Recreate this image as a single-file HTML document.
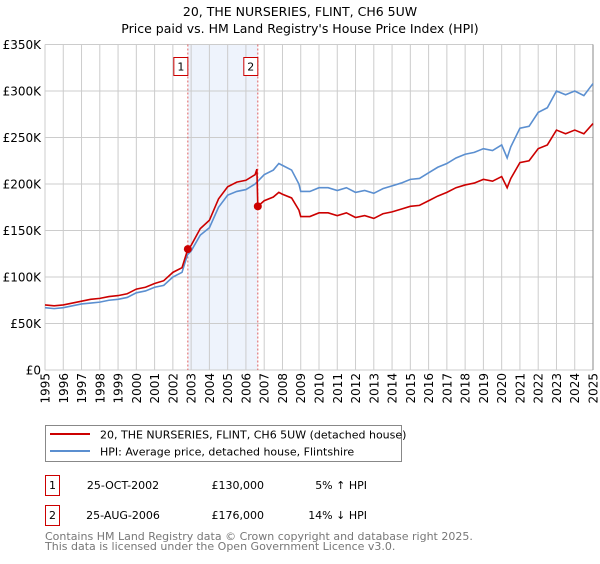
<!DOCTYPE html>
<html><head><meta charset="utf-8"><style>
body{margin:0;background:#fff;font-family:"DejaVu Sans","Liberation Sans",sans-serif;}
svg text{font-family:"DejaVu Sans","Liberation Sans",sans-serif;}
</style></head><body>
<svg id="chart" width="600" height="560" xmlns="http://www.w3.org/2000/svg">
<text x="300" y="16" text-anchor="middle" font-size="12.5">20, THE NURSERIES, FLINT, CH6 5UW</text>
<text x="300" y="33" text-anchor="middle" font-size="12.5">Price paid vs. HM Land Registry's House Price Index (HPI)</text>
<g id="grid"></g>
<g id="marks"></g>
<g id="axes"></g>
<rect x="45.5" y="425.5" width="356" height="36" fill="#fff" stroke="#888"/>
<line x1="50" y1="434" x2="90" y2="434" stroke="#cc0000" stroke-width="2"/>
<text x="100" y="438.5" font-size="11">20, THE NURSERIES, FLINT, CH6 5UW (detached house)</text>
<line x1="50" y1="451" x2="90" y2="451" stroke="#5b8fd0" stroke-width="2"/>
<text x="100" y="455.5" font-size="11">HPI: Average price, detached house, Flintshire</text>
<rect x="45.5" y="475.5" width="14" height="20" fill="#fff" stroke="#cc0000"/>
<text x="52.5" y="489" text-anchor="middle" font-size="11">1</text>
<text x="123" y="489" text-anchor="middle" font-size="11">25-OCT-2002</text>
<text x="264" y="489" font-size="11" text-anchor="end">£130,000</text>
<text x="367" y="489" font-size="11" text-anchor="end">5% ↑ HPI</text>
<rect x="45.5" y="505.5" width="14" height="20" fill="#fff" stroke="#cc0000"/>
<text x="52.5" y="519" text-anchor="middle" font-size="11">2</text>
<text x="123" y="519" text-anchor="middle" font-size="11">25-AUG-2006</text>
<text x="264" y="519" font-size="11" text-anchor="end">£176,000</text>
<text x="367" y="519" font-size="11" text-anchor="end">14% ↓ HPI</text>
<text x="45" y="540" font-size="11" fill="#777">Contains HM Land Registry data © Crown copyright and database right 2025.</text>
<text x="45" y="550" font-size="11" fill="#777">This data is licensed under the Open Government Licence v3.0.</text>
</svg>
<script>
const hpiYears=[1995,1995.5,1996,1996.5,1997,1997.5,1998,1998.5,1999,1999.5,2000,2000.5,2001,2001.5,2002,2002.5,2002.8,2003,2003.5,2004,2004.5,2005,2005.5,2006,2006.5,2007,2007.5,2007.8,2008,2008.5,2008.9,2009,2009.5,2010,2010.5,2011,2011.5,2012,2012.5,2013,2013.5,2014,2014.5,2015,2015.5,2016,2016.5,2017,2017.5,2018,2018.5,2019,2019.5,2020,2020.3,2020.5,2021,2021.5,2022,2022.5,2023,2023.5,2024,2024.5,2025];
const hpiValues=[67,66,67,69,71,72,73,75,76,78,83,85,89,91,100,105,124,128,145,153,175,188,192,194,200,210,215,222,220,215,200,192,192,196,196,193,196,191,193,190,195,198,201,205,206,212,218,222,228,232,234,238,236,242,228,240,260,262,277,282,300,296,300,295,308];
const priceYears=[1995,1995.5,1996,1996.5,1997,1997.5,1998,1998.5,1999,1999.5,2000,2000.5,2001,2001.5,2002,2002.5,2002.82,2003,2003.5,2004,2004.5,2005,2005.5,2006,2006.5,2006.6,2006.65,2007,2007.5,2007.8,2008,2008.5,2008.9,2009,2009.5,2010,2010.5,2011,2011.5,2012,2012.5,2013,2013.5,2014,2014.5,2015,2015.5,2016,2016.5,2017,2017.5,2018,2018.5,2019,2019.5,2020,2020.3,2020.5,2021,2021.5,2022,2022.5,2023,2023.5,2024,2024.5,2025];
const priceValues=[70,69,70,72,74,76,77,79,80,82,87,89,93,96,105,110,130,134,152,161,184,197,202,204,210,216,176,182,186,191,189,185,172,165,165,169,169,166,169,164,166,163,168,170,173,176,177,182,187,191,196,199,201,205,203,208,196,206,223,225,238,242,258,254,258,254,265];
const yTicks=[0,50,100,150,200,250,300,350];
const yTickLabels=["£0","£50K","£100K","£150K","£200K","£250K","£300K","£350K"];
const xTicks=[1995,1996,1997,1998,1999,2000,2001,2002,2003,2004,2005,2006,2007,2008,2009,2010,2011,2012,2013,2014,2015,2016,2017,2018,2019,2020,2021,2022,2023,2024,2025];
const sales=[{n:"1",year:2002.82,value:130},{n:"2",year:2006.65,value:176}];

const NS="http://www.w3.org/2000/svg";
const X0=45,X1=593,Y0=370,Y1=44.5;
const xs=y=>X0+(y-1995)/30*(X1-X0);
const ys=v=>Y0-v/350*(Y0-Y1);
function mk(tag,attrs,parent){const e=document.createElementNS(NS,tag);for(const k in attrs)e.setAttribute(k,attrs[k]);parent.appendChild(e);return e;}
const grid=document.getElementById('grid'),marks=document.getElementById('marks'),axes=document.getElementById('axes');
const band=mk('rect',{x:xs(sales[0].year),y:Y1,width:xs(sales[1].year)-xs(sales[0].year),height:Y0-Y1,fill:'#eef3fc'},grid);


xTicks.forEach(t=>{
  const l=mk('line',{x1:xs(t),x2:xs(t),y1:Y1,y2:Y0,stroke:'#cccccc','stroke-width':1},grid);
  
  
  const tx=mk('text',{x:0,y:0,'font-size':12,'text-anchor':'end',transform:`translate(${xs(t)+4.5},373) rotate(-90)`},axes);
  
  
  tx.textContent=t;
});
yTicks.forEach((t,i)=>{
  const l=mk('line',{x1:X0,x2:X1,y1:ys(t),y2:ys(t),stroke:'#cccccc','stroke-width':1},grid);
  
  
  const tx=mk('text',{x:41,y:ys(t)+4.5,'font-size':12,'text-anchor':'end'},axes);
  
  
  tx.textContent=yTickLabels[i];
});
sales.forEach(s=>{
  const l=mk('line',{x1:xs(s.year),x2:xs(s.year),y1:Y1,y2:Y0,stroke:'#e06060','stroke-dasharray':'2,2','stroke-width':1},marks);
  
  
  const b=mk('rect',{x:xs(s.year)-14,y:57.5,width:14,height:18,fill:'#fff',stroke:'#cc0000'},marks);
  
  
  const t=mk('text',{x:xs(s.year)-7,y:70.5,'font-size':11,'text-anchor':'middle'},marks);
  
  
  t.textContent=s.n;
});
const hp=mk('polyline',{points:hpiYears.map((y,i)=>xs(y)+','+ys(hpiValues[i])).join(' '),fill:'none',stroke:'#5b8fd0','stroke-width':1.6},marks);


const pp=mk('polyline',{points:priceYears.map((y,i)=>xs(y)+','+ys(priceValues[i])).join(' '),fill:'none',stroke:'#cc0000','stroke-width':1.6},marks);


sales.forEach(s=>{
  const c=mk('circle',{cx:xs(s.year),cy:ys(s.value),r:4,fill:'#cc0000'},marks);
  
  
});
const edge=mk('line',{x1:X1,x2:X1,y1:Y1,y2:Y0,stroke:'#888','stroke-width':1},grid);


</script>
</body></html>
